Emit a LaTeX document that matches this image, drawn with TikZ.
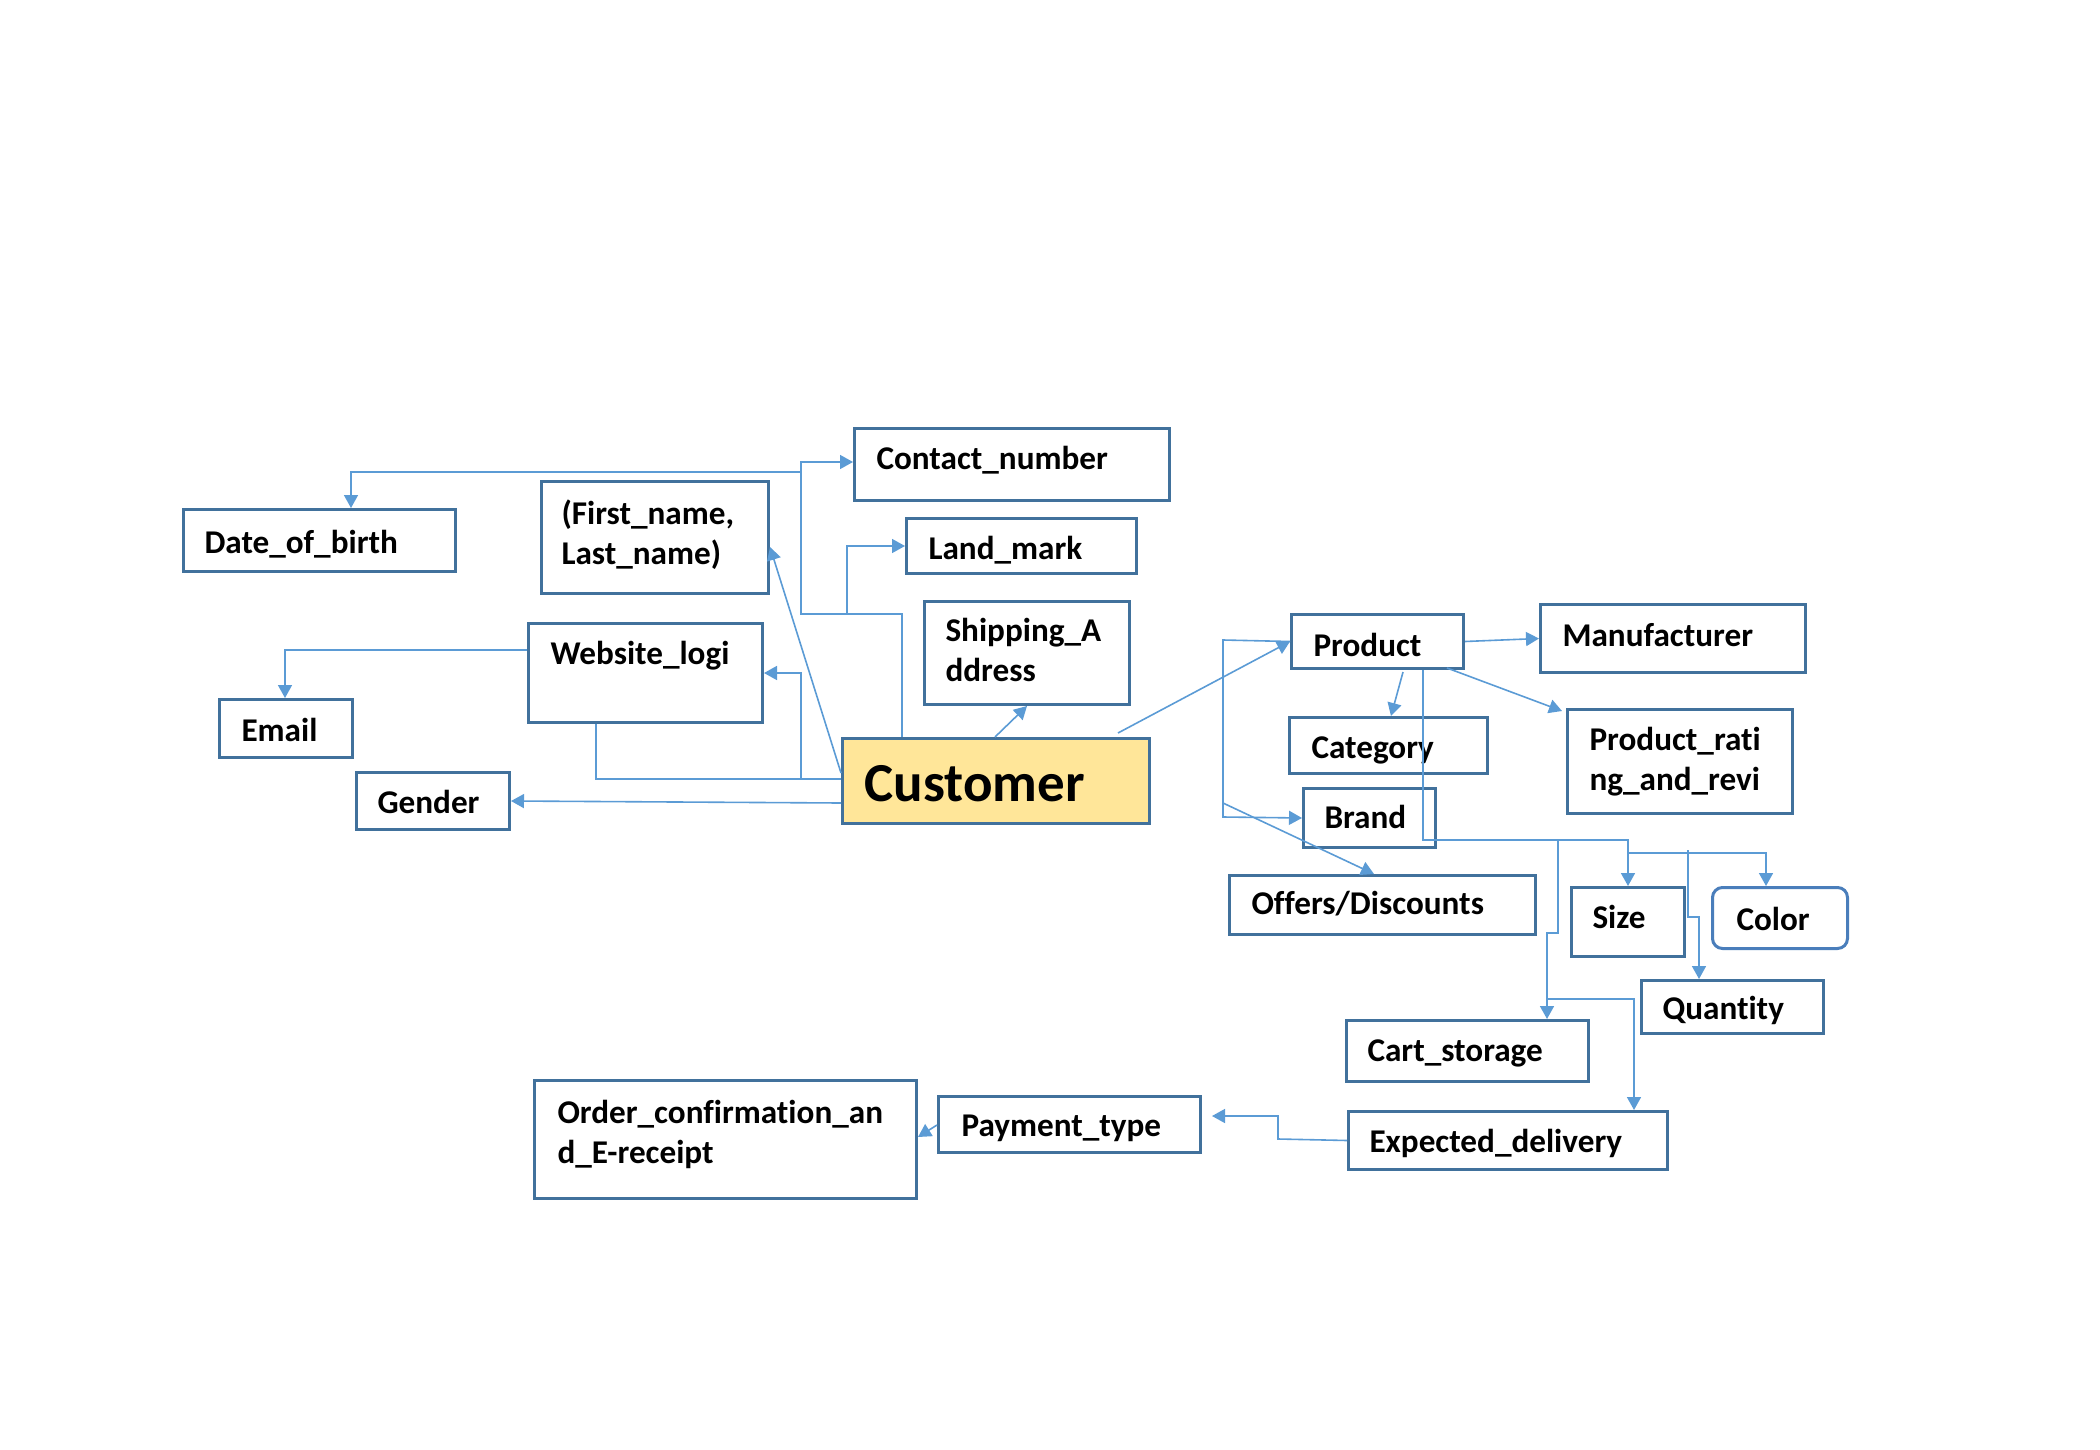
\documentclass[tikz,border=0pt]{standalone}
\usepackage{fontspec}
\setmainfont{Carlito}[Ligatures=NoCommon]
\usetikzlibrary{arrows.meta}
\definecolor{bordc}{HTML}{41719C}
\definecolor{colorbord}{HTML}{4A7EBB}
\definecolor{linec}{HTML}{5B9BD5}
\definecolor{custfill}{HTML}{FFE699}
\hyphenpenalty=10000
\exhyphenpenalty=10000
\begin{document}
\begin{tikzpicture}[x=0.5pt,y=-0.5pt,
  bx/.style={draw=bordc, line width=1.5pt, rectangle, inner ysep=0pt, anchor=north west,
    align=left, font=\bfseries\fontsize{16.6pt}{20pt}\selectfont},
  conn/.style={draw=linec, line width=0.8pt},
  arr/.style={conn, -{Triangle[length=6.5pt,width=7pt]}}]
\useasboundingbox (0,0) rectangle (2100,1450);

% boxes
\node[bx, inner xsep=11pt, text width=135.5pt, text height=20.5pt, text depth=15.5pt] (contact) at (853,427) {Contact\_number};
\node[bx, inner xsep=10.5pt, text width=115pt, text height=22pt, text depth=9pt] (dob) at (182,508) {Date\_of\_birth};
\node[bx, inner xsep=10pt, text width=93.5pt, text height=21.5pt, text depth=34.5pt] (name) at (540,480) {(First\_name,\\Last\_name)};
\node[bx, inner xsep=11pt, text width=93pt, text height=20.5pt, text depth=7pt] (land) at (905,517) {Land\_mark};
\node[bx, inner xsep=10.5pt, text width=81.5pt, text height=20pt, text depth=31.5pt] (ship) at (923,600) {Shipping\_A\\ddress};
\node[bx, inner xsep=11pt, text width=95pt, text height=20.5pt, text depth=29pt] (web) at (527,622) {Website\_logi};
\node[bx, inner xsep=11pt, text width=44.5pt, text height=21pt, text depth=8pt] (email) at (218,698) {Email};
\node[bx, inner xsep=10.5pt, text width=55.5pt, text height=20.5pt, text depth=8pt] (gender) at (355,771) {Gender};
\node[bx, fill=custfill, inner xsep=11pt, text width=131.5pt, text height=31.5pt, text depth=11pt,
  font=\bfseries\fontsize{27.5pt}{33pt}\selectfont] (cust) at (841,737) {Customer};
\node[bx, inner xsep=11pt, text width=64pt, text height=21pt, text depth=6pt] (prod) at (1290,613) {Product};
\node[bx, inner xsep=11pt, text width=110.5pt, text height=21pt, text depth=13pt] (manu) at (1539,603) {Manufacturer};
\node[bx, inner xsep=11pt, text width=77pt, text height=20.5pt, text depth=7.5pt] (cat) at (1288,716) {Category};
\node[bx, inner xsep=11pt, text width=90.5pt, text height=20.5pt, text depth=31.5pt] (rating) at (1566,708) {Product\_rati\\ng\_and\_revi};
\node[bx, inner xsep=10.5pt, text width=45pt, text height=20pt, text depth=9.5pt] (brand) at (1302,787) {Brand};
\node[bx, inner xsep=11pt, text width=131pt, text height=19.5pt, text depth=10pt] (offers) at (1228,874) {Offers/Discounts};
\node[bx, inner xsep=10.5pt, text width=35.5pt, text height=20.5pt, text depth=14pt] (size) at (1570,886) {Size};
\node[bx, draw=colorbord, rounded corners=5pt, inner xsep=12pt, text width=43.5pt, text height=21.5pt, text depth=9pt] (color) at (1711,886) {Color};
\node[bx, inner xsep=10.5pt, text width=70pt, text height=19.5pt, text depth=7pt] (qty) at (1640,979) {Quantity};
\node[bx, inner xsep=10.5pt, text width=100pt, text height=20.5pt, text depth=10pt] (cart) at (1345,1019) {Cart\_storage};
\node[bx, inner xsep=10.5pt, text width=138.5pt, text height=20.5pt, text depth=8.5pt] (exp) at (1347,1110) {Expected\_delivery};
\node[bx, inner xsep=11.5pt, text width=108pt, text height=20pt, text depth=8pt] (pay) at (937,1095) {Payment\_type};
\node[bx, inner xsep=11.5pt, text width=168pt, text height=21.5pt, text depth=37.5pt] (order) at (533,1079) {Order\_confirmation\_an\\d\_E-receipt};

% junction points
\coordinate (a1) at (902,614);
\coordinate (a2) at (801,614);
\coordinate (a3) at (801,462);
\coordinate (b1) at (847,614);
\coordinate (c1) at (801,472);
\coordinate (c2) at (351,472);
\coordinate (d1) at (841,773);
\coordinate (d2) at (767,547);
\coordinate (e1) at (596,779);
\coordinate (e2) at (801,779);
\coordinate (f1) at (285,650);
\coordinate (g1) at (841,803);
\coordinate (h1) at (995,737);
\coordinate (i1) at (1118,733);
\coordinate (j1) at (1223,640);
\coordinate (j2) at (1223,817);
\coordinate (k1) at (1223,803);
\coordinate (k2) at (1374,874);
\coordinate (m1) at (1403,672);
\coordinate (m2) at (1391,716);
\coordinate (n1) at (1447,668);
\coordinate (n2) at (1562,711);
\coordinate (o1) at (1423,840);
\coordinate (p1) at (1558,840);
\coordinate (p2) at (1558,933);
\coordinate (p3) at (1547,933);
\coordinate (q1) at (1547,999);
\coordinate (q2) at (1634,999);
\coordinate (r1) at (1627,853);
\coordinate (r2) at (1766,853);
\coordinate (s1) at (1688,850);
\coordinate (s2) at (1688,917);
\coordinate (s3) at (1699,917);
\coordinate (t1) at (1278,1139);
\coordinate (t2) at (1278,1116);
\coordinate (u1) at (937,1125);
\coordinate (u2) at (916,1137);

% connectors
\draw[arr] (cust.north -| a1) -- (a1) -- (a2) -- (a3) -- (contact.west |- a3);
\draw[arr] (b1) |- (land.west);
\draw[arr] (c1) -- (c2) -- (c2 |- dob.north);
\draw[arr] (d1 -| cust.west) -- (d2 -| name.east);
\draw[conn] (e1 |- web.south) -- (e1) -- (e1 -| cust.west);
\draw[arr] (e2) |- (web.east);
\draw[arr] (f1 -| web.west) -- (f1) -- (f1 |- email.north);
\draw[arr] (g1 -| cust.west) -- (gender.east);
\draw[arr] (h1) -- (ship.south);
\draw[arr] (i1) -- (prod.west);
\draw[arr] (prod.west) -- (j1) -- (j2) -- (brand.west);
\draw[arr] (k1) -- (k2 |- offers.north);
\draw[arr] (prod.east) -- (manu.west);
\draw[arr] (m1) -- (m2 |- cat.north);
\draw[arr] (n1) -- (n2);
\draw[arr] (o1 |- prod.south) -- (o1) -| (size.north);
\draw[arr] (p1) -- (p2) -- (p3) -- (p3 |- cart.north);
\draw[arr] (q1) -- (q2) -- (q2 |- exp.north);
\draw[arr] (r1) -- (r2) -- (r2 |- color.north);
\draw[arr] (s1) -- (s2) -- (s3) -- (s3 |- qty.north);
\draw[arr] (exp.west) -- (t1) -- (t2) -- ([xshift=5pt]pay.east |- t2);
\draw[arr] (u1 -| pay.west) -- (u2 -| order.east);
\end{tikzpicture}
\end{document}
